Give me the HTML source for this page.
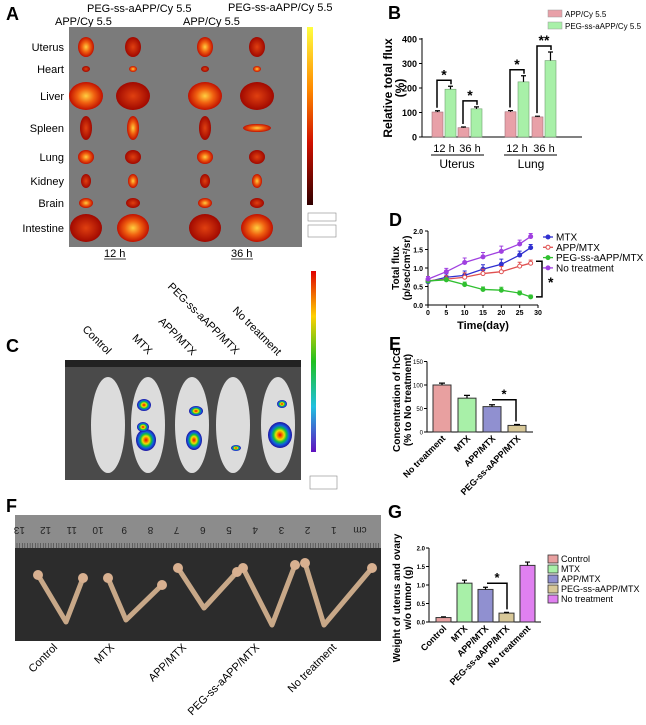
<!DOCTYPE html>
<html><head><meta charset="utf-8"><style>
body{margin:0;background:#fff}
svg{display:block;font-family:"Liberation Sans",Arial,sans-serif}
.b{font-weight:bold}
</style></head><body>
<svg id="s" width="646" height="725" viewBox="0 0 646 725">
<defs>
<linearGradient id="hot" x1="0" y1="0" x2="0" y2="1"><stop offset="0" stop-color="#ffff40"/><stop offset="0.35" stop-color="#ff8a00"/><stop offset="0.65" stop-color="#d01000"/><stop offset="1" stop-color="#300000"/></linearGradient>
<linearGradient id="rain" x1="0" y1="0" x2="0" y2="1"><stop offset="0" stop-color="#e00000"/><stop offset="0.25" stop-color="#ffd000"/><stop offset="0.5" stop-color="#20c020"/><stop offset="0.75" stop-color="#20c0e0"/><stop offset="1" stop-color="#6010c0"/></linearGradient>
<radialGradient id="org"><stop offset="0" stop-color="#ffd040"/><stop offset="0.5" stop-color="#f06010"/><stop offset="1" stop-color="#c01000"/></radialGradient>
<radialGradient id="org2"><stop offset="0" stop-color="#e04010"/><stop offset="1" stop-color="#a00800"/></radialGradient>
<radialGradient id="blob"><stop offset="0" stop-color="#f00000"/><stop offset="0.35" stop-color="#f0e000"/><stop offset="0.55" stop-color="#10c040"/><stop offset="0.75" stop-color="#1060e0"/><stop offset="1" stop-color="#2010a0"/></radialGradient>
</defs>

<g>
<text x="6" y="20" font-size="18" class="b">A</text>
<text x="87" y="12" font-size="11">PEG-ss-aAPP/Cy 5.5</text>
<text x="55" y="25" font-size="11">APP/Cy 5.5</text>
<text x="183" y="25" font-size="11">APP/Cy 5.5</text>
<text x="228" y="11" font-size="11">PEG-ss-aAPP/Cy 5.5</text>
<rect x="69" y="27" width="233" height="220" fill="#7b7b7b"/>
<g id="organs"></g>
<g font-size="11" text-anchor="end" id="orgLabels"></g>
<rect x="307" y="27" width="6" height="178" fill="url(#hot)"/>
<rect x="308" y="213" width="28" height="8" fill="none" stroke="#888" stroke-width="0.6"/>
<rect x="308" y="225" width="28" height="12" fill="none" stroke="#888" stroke-width="0.6"/>
<text x="104" y="257" font-size="11">12 h</text>
<text x="231" y="257" font-size="11">36 h</text>
<line x1="104" y1="259" x2="126" y2="259" stroke="#000" stroke-width="0.8"/>
<line x1="231" y1="259" x2="253" y2="259" stroke="#000" stroke-width="0.8"/>
</g>

<g>
<text x="6" y="352" font-size="18" class="b">C</text>
<g font-size="11" id="cLabels"></g>
<rect x="65" y="360" width="236" height="120" fill="#4a4a4a"/>
<rect x="65" y="360" width="236" height="7" fill="#222"/>
<g id="mice"></g>
<rect x="311" y="271" width="5" height="181" fill="url(#rain)"/>
<rect x="310" y="476" width="27" height="13" fill="none" stroke="#888" stroke-width="0.6"/>
</g>

<g>
<text x="6" y="512" font-size="18" class="b">F</text>
<rect x="15" y="515" width="366" height="126" fill="#2c2c2c"/>
<rect x="15" y="515" width="366" height="33" fill="#8c8c8c"/>
<g id="ruler"></g>
<g id="uteri"></g>
<g font-size="11" id="fLabels"></g>
</g>

<g id="chartB">
<text x="388" y="19" font-size="18" class="b">B</text>
<text transform="translate(392,88) rotate(-90)" text-anchor="middle" font-size="12" class="b">Relative total flux</text>
<text transform="translate(404,88) rotate(-90)" text-anchor="middle" font-size="12" class="b">(%)</text>
</g>
<g id="chartD">
<text x="389" y="226" font-size="18" class="b">D</text>
<text transform="translate(399,268) rotate(-90)" text-anchor="middle" font-size="10" class="b">Total flux</text>
<text transform="translate(410,268) rotate(-90)" text-anchor="middle" font-size="10" class="b">(p/sec/cm²/sr)</text>
<text x="483" y="329" text-anchor="middle" font-size="11" class="b">Time(day)</text>
</g>
<g id="chartE">
<text x="389" y="350" font-size="18" class="b">E</text>
<text transform="translate(400,400) rotate(-90)" text-anchor="middle" font-size="10" class="b">Concentration of hCG</text>
<text transform="translate(411,400) rotate(-90)" text-anchor="middle" font-size="10" class="b">(% to No treatment)</text>
</g>
<g id="chartG">
<text x="388" y="518" font-size="18" class="b">G</text>
<text transform="translate(400,598) rotate(-90)" text-anchor="middle" font-size="10" class="b">Weight of uterus and ovary</text>
<text transform="translate(411,598) rotate(-90)" text-anchor="middle" font-size="10" class="b">w/o tumor (g)</text>
</g>
</svg>
<script>
const bGroups = ["12 h","36 h","12 h","36 h"];
const bApp = [102, 38, 103, 82];
const bAppErr = [5, 3, 5, 3];
const bPeg = [195, 115, 225, 312];
const bPegErr = [12, 8, 25, 35];
const bTicks = [0,100,200,300,400];
const dDays = [0,5,10,15,20,25,28];
const dMtx = [0.63,0.75,0.8,0.97,1.1,1.35,1.55];
const dApp = [0.65,0.7,0.75,0.85,0.9,1.05,1.13];
const dPeg = [0.65,0.68,0.55,0.42,0.4,0.32,0.22];
const dNo = [0.7,0.9,1.15,1.3,1.45,1.65,1.85];
const dErr = [0.1,0.13,0.17,0.17,0.2,0.15,0.12];
const dYTicks = [0,0.5,1.0,1.5,2.0];
const dXTicks = [0,5,10,15,20,25,30];
const eCats = ["No treatment","MTX","APP/MTX","PEG-ss-aAPP/MTX"];
const eVals = [100, 72, 54, 14];
const eErr = [4, 6, 4, 2];
const eTicks = [0,50,100,150];
const gCats = ["Control","MTX","APP/MTX","PEG-ss-aAPP/MTX","No treatment"];
const gVals = [0.12, 1.05, 0.88, 0.24, 1.53];
const gErr = [0.02, 0.08, 0.06, 0.02, 0.09];
const gTicks = [0,0.5,1.0,1.5,2.0];

const NS="http://www.w3.org/2000/svg";
function mk(tag,attrs,parent,txt){const e=document.createElementNS(NS,tag);for(const k in attrs)e.setAttribute(k,attrs[k]);if(txt!==undefined)e.textContent=txt;parent.appendChild(e);return e;}

(function(){
const g=document.getElementById('organs');
const cols=[86,133,205,257];
const rows=[47,69,96,128,157,181,203,228];
const sz=[[8,10],[4,3],[17,14],[6,12],[8,7],[5,7],[7,5],[16,14]];
rows.forEach((y,ri)=>cols.forEach((x,ci)=>{
 const f=(ri+ci)%2?"url(#org2)":"url(#org)";
 let rx=sz[ri][0],ry=sz[ri][1];
 if(ri===3&&ci===3){rx=14;ry=4;}
 const e=mk('ellipse',{cx:x,cy:y,rx:rx,ry:ry,fill:f},g);
 
 
}));
const lab=["Uterus","Heart","Liver","Spleen","Lung","Kidney","Brain","Intestine"];
const L=document.getElementById('orgLabels');
lab.forEach((t,i)=>{const e=mk('text',{x:64,y:rows[i]+4},L,t);
 
 });
})();

(function(){
const labs=["Control","MTX","APP/MTX","PEG-ss-aAPP/MTX","No treatment"];
const ex=[107,148,192,235,277], ey=[355,355,356,355,356];
const L=document.getElementById('cLabels');
labs.forEach((t,i)=>{const e=mk('text',{transform:`translate(${ex[i]},${ey[i]}) rotate(45)`,'text-anchor':'end'},L,t);
 
 });
const g=document.getElementById('mice');
[108,148,192,233,278].forEach((x,i)=>{
 const e=mk('ellipse',{cx:x,cy:425,rx:17,ry:48,fill:"#dcdcdc"},g);
 
 
});
[[146,440,10,11],[144,405,7,6],[143,427,6,5],[196,411,7,5],[194,440,8,10],[236,448,5,3],[280,435,12,13],[282,404,5,4]].forEach(b=>{
 const e=mk('ellipse',{cx:b[0],cy:b[1],rx:b[2],ry:b[3],fill:"url(#blob)"},g);
 
 
});
})();

(function(){
const r=document.getElementById('ruler');
for(let i=0;i<=13;i++){const x=360-i*26.2;
 const e=mk('text',{x:x,y:535,'font-size':10,'text-anchor':'middle',fill:'#222',transform:`rotate(180 ${x} 531)`},r,String(i===0?'cm':i));
 
 
}
for(let x=17;x<380;x+=2.62){mk('line',{x1:x,y1:548,x2:x,y2:543,stroke:'#333','stroke-width':0.5},r);}
const g=document.getElementById('uteri');
const U=[[38,575,66,622,83,578],[108,578,126,620,162,585],[178,568,204,608,237,572],[243,568,272,625,295,565],[305,563,324,625,372,568]];
U.forEach(u=>{
 const p=mk('path',{d:`M${u[0]},${u[1]} L${u[2]},${u[3]} L${u[4]},${u[5]}`,stroke:'#c8a888','stroke-width':5,fill:'none','stroke-linecap':'round','stroke-linejoin':'round'},g);
 
 
 mk('circle',{cx:u[0],cy:u[1],r:5,fill:'#d8b090'},g);mk('circle',{cx:u[4],cy:u[5],r:5,fill:'#d8b090'},g);
});
const labs=["Control","MTX","APP/MTX","PEG-ss-aAPP/MTX","No treatment"];
const ex=[58,115,187,260,337];
const L=document.getElementById('fLabels');
labs.forEach((t,i)=>{const e=mk('text',{transform:`translate(${ex[i]},648) rotate(-45)`,'text-anchor':'end'},L,t);
 
 });
})();

(function(){
const g=document.getElementById('chartB');
const y=v=>137-v*98/400, x0=422;
mk('line',{x1:x0,y1:38,x2:x0,y2:137,stroke:'#000','stroke-width':1},g);
mk('line',{x1:x0,y1:137,x2:582,y2:137,stroke:'#000','stroke-width':1},g);
bTicks.forEach(t=>{mk('line',{x1:x0-3,y1:y(t),x2:x0,y2:y(t),stroke:'#000'},g);
 const e=mk('text',{x:x0-5,y:y(t)+3.5,'font-size':9,'text-anchor':'end',class:'b'},g,t);
 
 });
const gx=[432,458,505,532];
bGroups.forEach((lab,i)=>{
 const xa=gx[i], xp=gx[i]+13;
 const b1=mk('rect',{x:xa,y:y(bApp[i]),width:11,height:137-y(bApp[i]),fill:'#e8a0a8',stroke:'#a07078','stroke-width':0.6},g);
 
 
 mk('path',{d:`M${xa+5.5},${y(bApp[i])} V${y(bApp[i]+bAppErr[i])} M${xa+3},${y(bApp[i]+bAppErr[i])} H${xa+8}`,stroke:'#000','stroke-width':1.2},g);
 const b2=mk('rect',{x:xp,y:y(bPeg[i]),width:11,height:137-y(bPeg[i]),fill:'#a8f0a8',stroke:'#70a070','stroke-width':0.6},g);
 
 
 mk('path',{d:`M${xp+5.5},${y(bPeg[i])} V${y(bPeg[i]+bPegErr[i])} M${xp+3},${y(bPeg[i]+bPegErr[i])} H${xp+8}`,stroke:'#000','stroke-width':1.2},g);
 const top=y(bPeg[i]+bPegErr[i])-6;
 mk('path',{d:`M${xa+5},${y(bApp[i]+bAppErr[i])-3} V${top} H${xp+6} V${top+4}`,stroke:'#000','stroke-width':1.5,fill:'none'},g);
 const st=mk('text',{x:(xa+xp+11)/2,y:top-1,'font-size':14,'text-anchor':'middle',class:'b'},g,i===3?'**':'*');
 
 
 const t=mk('text',{x:xa+12,y:152,'font-size':11,'text-anchor':'middle'},g,lab);
 
 
});
mk('line',{x1:431,y1:155,x2:484,y2:155,stroke:'#000'},g);
mk('line',{x1:504,y1:155,x2:557,y2:155,stroke:'#000'},g);
let e=mk('text',{x:457,y:168,'font-size':12,'text-anchor':'middle'},g,'Uterus');

e=mk('text',{x:531,y:168,'font-size':12,'text-anchor':'middle'},g,'Lung');

[['APP/Cy 5.5','#e8a0a8',10],['PEG-ss-aAPP/Cy 5.5','#a8f0a8',22]].forEach(l=>{
 const r=mk('rect',{x:548,y:l[2],width:14,height:7,fill:l[1],stroke:'#999','stroke-width':0.5},g);
 
 const t=mk('text',{x:565,y:l[2]+7,'font-size':8},g,l[0]);
 
});
})();

(function(){
const g=document.getElementById('chartD');
const x=v=>428+v*110/30, y=v=>305-v*74/2;
mk('line',{x1:428,y1:231,x2:428,y2:305,stroke:'#000'},g);
mk('line',{x1:428,y1:305,x2:538,y2:305,stroke:'#000'},g);
dYTicks.forEach(t=>{mk('line',{x1:425,y1:y(t),x2:428,y2:y(t),stroke:'#000'},g);
 const e=mk('text',{x:423,y:y(t)+3,'font-size':7,'text-anchor':'end',class:'b'},g,t.toFixed(1));
 });
dXTicks.forEach(t=>{mk('line',{x1:x(t),y1:305,x2:x(t),y2:308,stroke:'#000'},g);
 const e=mk('text',{x:x(t),y:315,'font-size':7,'text-anchor':'middle',class:'b'},g,t);
 });
const series=[[dMtx,'#3030d0','MTX'],[dApp,'#e05050','APP/MTX'],[dPeg,'#30c030','PEG-ss-aAPP/MTX'],[dNo,'#a040e0','No treatment']];
series.forEach((s,si)=>{
 const vals=s[0];
 const pl=mk('polyline',{points:dDays.map((d,i)=>x(d)+','+y(vals[i])).join(' '),fill:'none',stroke:s[1],'stroke-width':1.3},g);
 
 
 dDays.forEach((d,i)=>{
  const er=si===2?dErr[i]*0.4:dErr[i]*0.7;
  mk('path',{d:`M${x(d)},${y(vals[i])} V${y(vals[i]+er)} M${x(d)-2},${y(vals[i]+er)} H${x(d)+2}`,stroke:s[1],'stroke-width':1},g);
  const c=mk('circle',{cx:x(d),cy:y(vals[i]),r:2,fill:si===1?'#fff':s[1],stroke:s[1]},g);
  
 });
 const ly=237+si*10.3;
 mk('line',{x1:543,y1:ly,x2:553,y2:ly,stroke:s[1],'stroke-width':1.3},g);
 mk('circle',{cx:548,cy:ly,r:2,fill:si===1?'#fff':s[1],stroke:s[1]},g);
 const t=mk('text',{x:556,y:ly+3.5,'font-size':10},g,s[2]);
 
});
mk('path',{d:`M536,${y(dApp[6])-2} H542 V${y(dPeg[6])} H536`,stroke:'#000','stroke-width':1.5,fill:'none'},g);
const st=mk('text',{x:548,y:287,'font-size':14,class:'b'},g,'*');

})();

(function(){
const g=document.getElementById('chartE');
const y=v=>432-v*47/100, x0=427;
mk('line',{x1:x0,y1:y(150),x2:x0,y2:432,stroke:'#000'},g);
mk('line',{x1:x0,y1:432,x2:533,y2:432,stroke:'#000'},g);
eTicks.forEach(t=>{mk('line',{x1:x0-3,y1:y(t),x2:x0,y2:y(t),stroke:'#000'},g);
 const e=mk('text',{x:x0-4,y:y(t)+2.5,'font-size':6,'text-anchor':'end'},g,t);
 });
const cols=['#e8a0a0','#a8f0a8','#9090d0','#d8c898'];
eCats.forEach((c,i)=>{
 const bx=433+i*25, v=eVals[i];
 const r=mk('rect',{x:bx,y:y(v),width:18,height:432-y(v),fill:cols[i],stroke:'#333','stroke-width':1},g);
 
 
 mk('path',{d:`M${bx+9},${y(v)} V${y(v+eErr[i])} M${bx+6},${y(v+eErr[i])} H${bx+12}`,stroke:'#000','stroke-width':1.2},g);
 const t=mk('text',{transform:`translate(${bx+13},439) rotate(-45)`,'text-anchor':'end','font-size':9,class:'b'},g,c);
 
});
mk('path',{d:`M492,${y(eVals[2]+eErr[2])-5} H516 V${y(eVals[3]+eErr[3])-3}`,stroke:'#000','stroke-width':1.5,fill:'none'},g);
const st=mk('text',{x:504,y:y(eVals[2]+eErr[2])-6,'font-size':13,'text-anchor':'middle',class:'b'},g,'*');

})();

(function(){
const g=document.getElementById('chartG');
const y=v=>622-v*37, x0=429;
mk('line',{x1:x0,y1:y(2),x2:x0,y2:622,stroke:'#000'},g);
mk('line',{x1:x0,y1:622,x2:541,y2:622,stroke:'#000'},g);
gTicks.forEach(t=>{mk('line',{x1:x0-3,y1:y(t),x2:x0,y2:y(t),stroke:'#000'},g);
 const e=mk('text',{x:x0-4,y:y(t)+2.5,'font-size':6,'text-anchor':'end',class:'b'},g,t.toFixed(1));
 });
const cols=['#e8a0a0','#a8f0a8','#9090d0','#d8c898','#e080f0'];
gCats.forEach((c,i)=>{
 const bx=436+i*21, v=gVals[i];
 const r=mk('rect',{x:bx,y:y(v),width:15,height:622-y(v),fill:cols[i],stroke:'#333','stroke-width':1},g);
 
 
 mk('path',{d:`M${bx+7.5},${y(v)} V${y(v+gErr[i])} M${bx+5},${y(v+gErr[i])} H${bx+10}`,stroke:'#000','stroke-width':1.2},g);
 const t=mk('text',{transform:`translate(${bx+11},629) rotate(-45)`,'text-anchor':'end','font-size':9,class:'b'},g,c);
 
 const sw=mk('rect',{x:548,y:555+i*10,width:10,height:8,fill:cols[i],stroke:'#333','stroke-width':0.8},g);
 
 const lt=mk('text',{x:561,y:562+i*10,'font-size':9},g,c);
 
});
mk('path',{d:`M487,${y(gVals[2]+gErr[2])-4} H507 V${y(gVals[3]+gErr[3])-3}`,stroke:'#000','stroke-width':1.5,fill:'none'},g);
const st=mk('text',{x:497,y:y(gVals[2]+gErr[2])-5,'font-size':13,'text-anchor':'middle',class:'b'},g,'*');

})();
</script>
</body></html>
